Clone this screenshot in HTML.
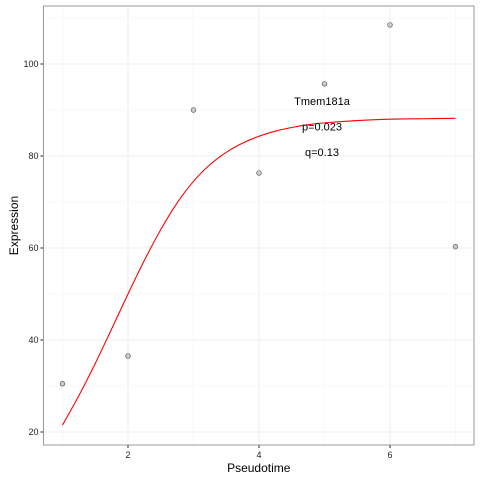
<!DOCTYPE html>
<html><head><meta charset="utf-8"><style>
body{margin:0;background:#fff;}
svg{display:block;font-family:"Liberation Sans",Arial,sans-serif;}
</style></head><body>
<svg id="chart" width="480" height="480"></svg>
<script>
const xTicks=[2,4,6];
const yTicks=[20,40,60,80,100];
const pointX=[1,2,3,4,5,6,7];
const pointY=[30.5,36.5,90,76.3,95.7,108.5,60.3];
const curveX=[1,1.25,1.5,1.75,2,2.25,2.5,2.75,3,3.25,3.5,3.75,4,4.25,4.5,4.75,5,5.5,6,6.5,7];
const curveY=[21.5,27.9,34.9,42.4,50.0,57.3,64.0,69.8,74.5,78.1,80.8,82.8,84.3,85.4,86.2,86.8,87.2,87.7,88.0,88.1,88.2];
const labels=["Tmem181a","p=0.023","q=0.13"];
const NS="http://www.w3.org/2000/svg";
const svg=document.getElementById('chart');
const L=43.5,R=474,T=6,B=445;
const sx=v=>128+(v-2)*65.5;
const sy=v=>432-(v-20)*4.6;
function mk(t,a,p){const e=document.createElementNS(NS,t);for(const k in a)e.setAttribute(k,a[k]);(p||svg).appendChild(e);return e;}
const panel=mk('rect',{x:L,y:T,width:R-L,height:B-T,fill:'#fff'});


for(let v=1;v<=7;v+=2){const g=mk('line',{x1:sx(v),x2:sx(v),y1:T,y2:B,stroke:'#f4f4f4','stroke-width':0.6});}
for(let v=30;v<=110;v+=20){const g=mk('line',{x1:L,x2:R,y1:sy(v),y2:sy(v),stroke:'#f4f4f4','stroke-width':0.6});}
xTicks.forEach(v=>{const g=mk('line',{x1:sx(v),x2:sx(v),y1:T,y2:B,stroke:'#eeeeee','stroke-width':1});
 const t=mk('line',{x1:sx(v),x2:sx(v),y1:B,y2:B+3,stroke:'#333','stroke-width':1.1});
 const l=mk('text',{x:sx(v),y:B+13,'text-anchor':'middle','font-size':9,fill:'#222'});l.textContent=v;});
yTicks.forEach(v=>{const g=mk('line',{x1:L,x2:R,y1:sy(v),y2:sy(v),stroke:'#eeeeee','stroke-width':1});
 const t=mk('line',{x1:L-3,x2:L,y1:sy(v),y2:sy(v),stroke:'#333','stroke-width':1.1});
 const l=mk('text',{x:L-5,y:sy(v)+3.2,'text-anchor':'end','font-size':9,fill:'#222'});l.textContent=v;});
const border=mk('rect',{x:L,y:T,width:R-L,height:B-T,fill:'none',stroke:'#999','stroke-width':1});


const P=curveX.map((x,i)=>[sx(x),sy(curveY[i])]);
let d='M'+P[0][0]+','+P[0][1];
for(let i=0;i<P.length-1;i++){const p0=P[Math.max(0,i-1)],p1=P[i],p2=P[i+1],p3=P[Math.min(P.length-1,i+2)];
 d+=` C${p1[0]+(p2[0]-p0[0])/6},${p1[1]+(p2[1]-p0[1])/6} ${p2[0]-(p3[0]-p1[0])/6},${p2[1]-(p3[1]-p1[1])/6} ${p2[0]},${p2[1]}`;}
const curve=mk('path',{d:d,fill:'none',stroke:'#ff0000','stroke-width':1.1});


pointX.forEach((x,i)=>{const c=mk('circle',{cx:sx(x),cy:sy(pointY[i]),r:2.4,fill:'#bbb','fill-opacity':0.8,stroke:'#555','stroke-width':0.6});
 
 });
labels.forEach((s,i)=>{const t=mk('text',{x:322,y:105+i*25.5,'text-anchor':'middle','font-size':11,fill:'#000'});t.textContent=s;
 
 });
const xt=mk('text',{x:(L+R)/2,y:472,'text-anchor':'middle','font-size':12,fill:'#000'});xt.textContent='Pseudotime';


const yt=mk('text',{x:18,y:(T+B)/2,'text-anchor':'middle','font-size':12,fill:'#000',transform:`rotate(-90 18 ${(T+B)/2})`});yt.textContent='Expression';


</script>
</body></html>
